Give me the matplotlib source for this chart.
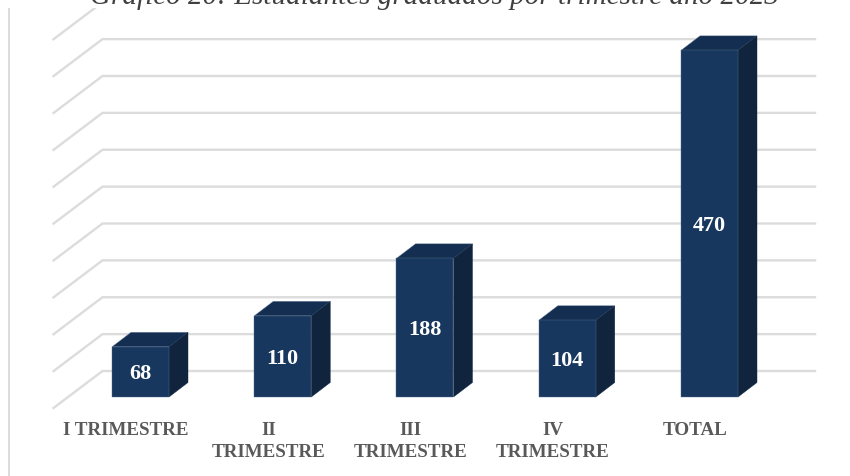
import matplotlib
matplotlib.use("Agg")
import matplotlib.pyplot as plt
from matplotlib.patches import Polygon

categories = ["I TRIMESTRE", "II\nTRIMESTRE", "III\nTRIMESTRE", "IV\nTRIMESTRE", "TOTAL"]
values = [68, 110, 188, 104, 470]
gridvals = list(range(0, 501, 50))
title = "Gráfico 20: Estudiantes graduados por trimestre año 2023"

W, H = 850, 477
PX_X = 142.25        # px per category
PX_Y = 0.7375        # px per value unit
X0 = 140.5           # px centre of first bar front
Y0 = 398             # px baseline of bar front

fig = plt.figure(figsize=(W / 100, H / 100), dpi=100)
ax = fig.add_axes([0, 0, 1, 1])
ax.set_xlim(-X0 / PX_X, (W - X0) / PX_X)
ax.set_ylim((Y0 - H) / PX_Y, Y0 / PX_Y)
ax.axis("off")

def dx(p): return p / PX_X
def dy(p): return p / PX_Y
def px(x): return (x - X0) / PX_X
def py(y): return (Y0 - y) / PX_Y

GRID = "#dcdcdc"
for v in gridvals:
    front_y = py(409) + dy(v * PX_Y)
    back_y = py(372) + dy(v * PX_Y)
    line_x = [px(53.5), px(102.5), px(815)]
    line_y = [front_y, back_y, back_y]
    ax.plot(line_x, line_y, color=GRID, lw=1.7, solid_joinstyle="miter", zorder=1)

# left rule
ax.plot([px(8.5), px(8.5)], [py(9), py(477)], color=GRID, lw=1.4, zorder=1)

# white band hides what lies above the chart, where the title is cut
ax.add_patch(Polygon([(px(0), py(0)), (px(W), py(0)), (px(W), py(9)), (px(0), py(9))],
                     closed=True, fc="white", ec="none", zorder=2))

BW = 57 / PX_X
DX, DY = dx(19), dy(14.5)
FRONT, TOP, SIDE = "#17375e", "#132e50", "#10243e"
EDGE = "#5a7090"

for i, (cat, v) in enumerate(zip(categories, values)):
    l, r = i - BW / 2, i + BW / 2
    ax.add_patch(Polygon([(l, v), (r, v), (r + DX, v + DY), (l + DX, v + DY)], closed=True,
                         fc=TOP, ec=EDGE, lw=0.3, zorder=3))
    ax.add_patch(Polygon([(r, 0), (r + DX, DY), (r + DX, v + DY), (r, v)], closed=True,
                         fc=SIDE, ec=SIDE, lw=0.3, zorder=3))
    ax.bar(i, v, width=BW, color=FRONT, edgecolor=EDGE, linewidth=0.3, zorder=4)
    ax.text(i - dx(0.5), v / 2 - dy(1.5), str(v), ha="center", va="center", color="white", fontsize=16,
            fontweight="bold", family="Liberation Serif", zorder=5)
    ax.text(i - dx(14.5), py(422), cat, ha="center", va="top", color="#595959",
            fontsize=13.7, fontweight="bold", family="Liberation Serif", linespacing=1.35, zorder=5)

ax.text(px(435), py(4), title, ha="center", va="baseline", color="#404040", fontsize=21,
        style="italic", family="Liberation Serif", zorder=5, clip_on=True)

fig.savefig("out.png", dpi=100)
